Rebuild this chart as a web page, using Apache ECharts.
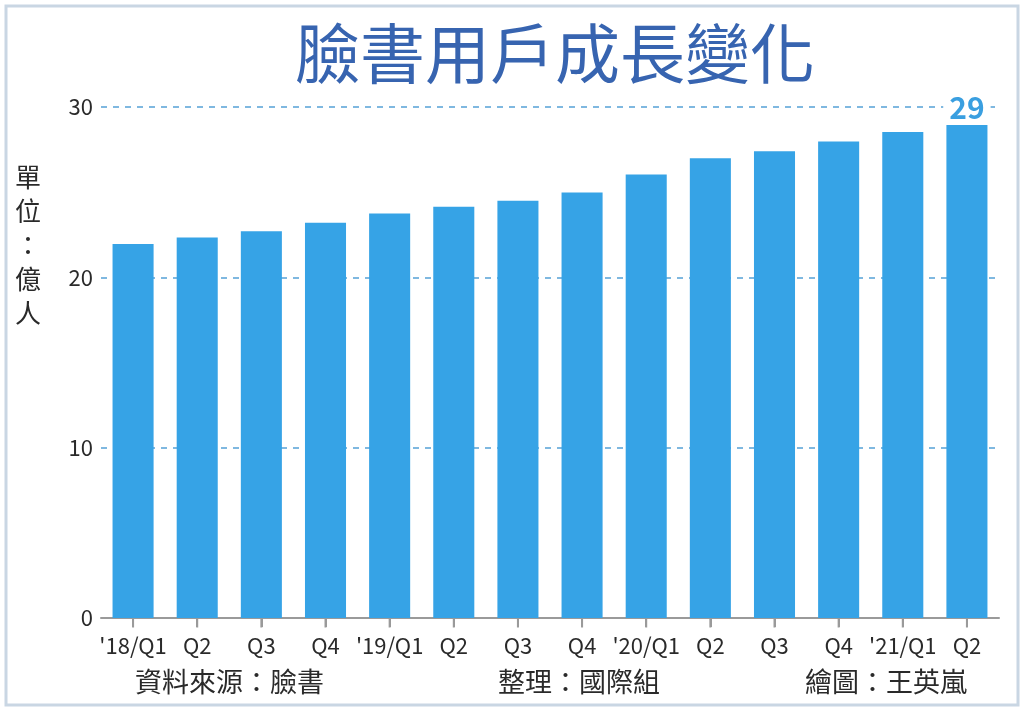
<!DOCTYPE html>
<html>
<head>
<meta charset="utf-8">
<script src="https://cdn.jsdelivr.net/npm/echarts@6/dist/echarts.min.js"></script>
<style>
  html, body { margin: 0; padding: 0; background: #fff; }
  #main { width: 1024px; height: 711px; }
</style>
</head>
<body>
<div id="main"></div>
<script>
// 臉書每月活躍用戶（億人）
var quarters = ["'18/Q1", 'Q2', 'Q3', 'Q4', "'19/Q1", 'Q2', 'Q3', 'Q4', "'20/Q1", 'Q2', 'Q3', 'Q4', "'21/Q1", 'Q2'];
var users = [21.96, 22.34, 22.71, 23.20, 23.75, 24.14, 24.49, 24.98, 26.03, 26.99, 27.40, 27.97, 28.53, 28.95];
var yTicks = [0, 10, 20, 30];
var lastLabel = '29';
var credits = ['資料來源：臉書', '整理：國際組', '繪圖：王英嵐'];

var font = '"Noto Sans CJK TC", "Noto Sans", sans-serif';
var chart = echarts.init(document.getElementById('main'));

var option = {
    backgroundColor: '#fff',
    animation: false,
    grid: { left: 101, right: 25, top: 107, bottom: 93 },
    title: {
        text: '臉書用戶成長變化',
        left: 290,
        top: 16,
        textStyle: { fontFamily: font, fontSize: 65, fontWeight: 'normal', color: '#3764b0' }
    },
    xAxis: {
        type: 'category',
        data: quarters,
        axisLine: { show: true, lineStyle: { color: '#9a9a9a', width: 2 } },
        axisTick: { show: true, alignWithLabel: true, interval: 0, length: 9, lineStyle: { color: '#9a9a9a', width: 2 } },
        axisLabel: { interval: 0, fontFamily: font, fontSize: 22, color: '#2a2a2a', margin: 17 }
    },
    yAxis: {
        type: 'value',
        min: yTicks[0],
        max: yTicks[yTicks.length - 1],
        interval: 10,
        axisLine: { show: false },
        axisTick: { show: false },
        axisLabel: { fontFamily: font, fontSize: 22, color: '#2a2a2a', margin: 8 },
        splitLine: { lineStyle: { color: '#7fb8e0', type: [6, 6], width: 2 } }
    },
    series: [
        {
            type: 'bar',
            data: users.map(function (v, i) {
                if (i === users.length - 1) {
                    return {
                        value: v,
                        label: {
                            show: true,
                            position: 'top',
                            formatter: lastLabel,
                            distance: 2,
                            fontFamily: font,
                            fontSize: 30,
                            fontWeight: 'bold',
                            color: '#3a9fe0',
                            backgroundColor: '#fff',
                            padding: [0, 6]
                        }
                    };
                }
                return v;
            }),
            barWidth: '64%',
            itemStyle: { color: '#36a3e6' }
        },
        {
            // small tick marks under each bar centre
            type: 'scatter',
            clip: false,
            silent: true,
            data: quarters.map(function () { return 0; }),
            symbol: 'rect',
            symbolSize: [2, 9],
            symbolOffset: [0, 5],
            itemStyle: { color: '#9a9a9a', opacity: 1 },
            z: 5
        }
    ],
    graphic: [
        {
            type: 'rect',
            shape: { x: 6, y: 6, width: 1012, height: 699 },
            style: { fill: 'none', stroke: '#c9d6e3', lineWidth: 3 },
            z: -1
        },
        {
            type: 'text',
            left: 15,
            top: 160,
            style: {
                text: '單\n位\n：\n億\n人',
                fontFamily: font,
                fontSize: 26,
                lineHeight: 34,
                fill: '#2a2a2a'
            }
        },
        {
            type: 'text',
            left: 135,
            top: 668,
            style: { text: credits[0], fontFamily: font, fontSize: 27, fill: '#2a2a2a' }
        },
        {
            type: 'text',
            left: 498,
            top: 668,
            style: { text: credits[1], fontFamily: font, fontSize: 27, fill: '#2a2a2a' }
        },
        {
            type: 'text',
            left: 805,
            top: 668,
            style: { text: credits[2], fontFamily: font, fontSize: 27, fill: '#2a2a2a' }
        }
    ]
};

chart.setOption(option);
</script>
</body>
</html>
